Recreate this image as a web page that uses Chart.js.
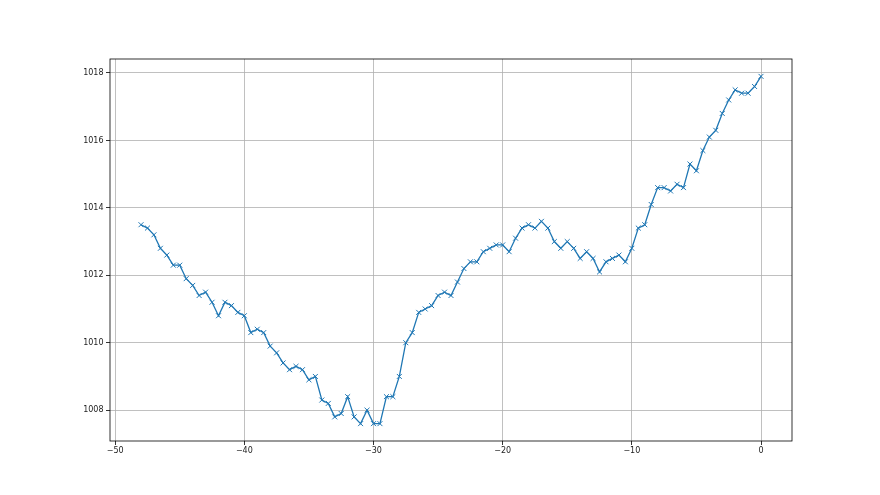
<!DOCTYPE html>
<html>
<head>
<meta charset="utf-8">
<script src="https://cdn.jsdelivr.net/npm/chart.js@4.4.0/dist/chart.umd.min.js"></script>
<style>
  html, body { margin: 0; padding: 0; background: #fff; }
  #wrap { width: 880px; height: 495px; }
</style>
</head>
<body>
<div id="wrap"><canvas id="chart"></canvas></div>
<script>
// hours before now
const hours = [
  -48, -47.5, -47, -46.5, -46, -45.5, -45, -44.5, -44, -43.5,
  -43, -42.5, -42, -41.5, -41, -40.5, -40, -39.5, -39, -38.5,
  -38, -37.5, -37, -36.5, -36, -35.5, -35, -34.5, -34, -33.5,
  -33, -32.5, -32, -31.5, -31, -30.5, -30, -29.5, -29, -28.5,
  -28, -27.5, -27, -26.5, -26, -25.5, -25, -24.5, -24, -23.5,
  -23, -22.5, -22, -21.5, -21, -20.5, -20, -19.5, -19, -18.5,
  -18, -17.5, -17, -16.5, -16, -15.5, -15, -14.5, -14, -13.5,
  -13, -12.5, -12, -11.5, -11, -10.5, -10, -9.5, -9, -8.5,
  -8, -7.5, -7, -6.5, -6, -5.5, -5, -4.5, -4, -3.5,
  -3, -2.5, -2, -1.5, -1, -0.5, 0
];
const pressure = [
  1013.5, 1013.4, 1013.2, 1012.8, 1012.6, 1012.3, 1012.3, 1011.9, 1011.7, 1011.4,
  1011.5, 1011.2, 1010.8, 1011.2, 1011.1, 1010.9, 1010.8, 1010.3, 1010.4, 1010.3,
  1009.9, 1009.7, 1009.4, 1009.2, 1009.3, 1009.2, 1008.9, 1009.0, 1008.3, 1008.2,
  1007.8, 1007.9, 1008.4, 1007.8, 1007.6, 1008.0, 1007.6, 1007.6, 1008.4, 1008.4,
  1009.0, 1010.0, 1010.3, 1010.9, 1011.0, 1011.1, 1011.4, 1011.5, 1011.4, 1011.8,
  1012.2, 1012.4, 1012.4, 1012.7, 1012.8, 1012.9, 1012.9, 1012.7, 1013.1, 1013.4,
  1013.5, 1013.4, 1013.6, 1013.4, 1013.0, 1012.8, 1013.0, 1012.8, 1012.5, 1012.7,
  1012.5, 1012.1, 1012.4, 1012.5, 1012.6, 1012.4, 1012.8, 1013.4, 1013.5, 1014.1,
  1014.6, 1014.6, 1014.5, 1014.7, 1014.6, 1015.3, 1015.1, 1015.7, 1016.1, 1016.3,
  1016.8, 1017.2, 1017.5, 1017.4, 1017.4, 1017.6, 1017.9
];
const xTicks = [-50, -40, -30, -20, -10, 0];
const yTicks = [1008, 1010, 1012, 1014, 1016, 1018];

const points = hours.map((h, i) => ({ x: h, y: pressure[i] }));

// matplotlib style box around the plot
const frame = {
  id: 'frame',
  afterDraw(chart) {
    const a = chart.chartArea;
    const ctx = chart.ctx;
    ctx.save();
    ctx.strokeStyle = '#000';
    ctx.lineWidth = 0.8;
    ctx.strokeRect(a.left, a.top, a.right - a.left, a.bottom - a.top);
    ctx.restore();
  }
};

const minus = v => String(v).replace('-', '\u2212');

new Chart(document.getElementById('chart'), {
  type: 'line',
  data: {
    datasets: [{
      data: points,
      borderColor: '#1f77b4',
      borderWidth: 1.3,
      pointStyle: 'crossRot',
      pointRadius: 3.5,
      pointHoverRadius: 3.5,
      pointBorderColor: '#1f77b4',
      pointBorderWidth: 1,
      tension: 0,
      fill: false
    }]
  },
  options: {
    responsive: true,
    maintainAspectRatio: false,
    animation: false,
    layout: { padding: { top: 59, right: 88, left: 0, bottom: 0 } },
    plugins: { legend: { display: false }, tooltip: { enabled: false } },
    scales: {
      x: {
        type: 'linear',
        min: -50.4,
        max: 2.4,
        afterBuildTicks: s => { s.ticks = xTicks.map(v => ({ value: v })); },
        afterFit: s => { s.height = 54; },
        border: { display: false },
        grid: { color: '#b0b0b0', lineWidth: 0.8, tickLength: 4, tickColor: '#000' },
        ticks: {
          color: '#222',
          padding: 1,
          font: { family: 'DejaVu Sans', size: 8 },
          maxRotation: 0,
          callback: v => minus(v)
        }
      },
      y: {
        type: 'linear',
        min: 1007.085,
        max: 1018.415,
        afterBuildTicks: s => { s.ticks = yTicks.map(v => ({ value: v })); },
        afterFit: s => { s.width = 110; },
        border: { display: false },
        grid: { color: '#b0b0b0', lineWidth: 0.8, tickLength: 4, tickColor: '#000' },
        ticks: {
          color: '#222',
          padding: 2.5,
          font: { family: 'DejaVu Sans', size: 8 },
          callback: v => String(v)
        }
      }
    }
  },
  plugins: [frame]
});
</script>
</body>
</html>
